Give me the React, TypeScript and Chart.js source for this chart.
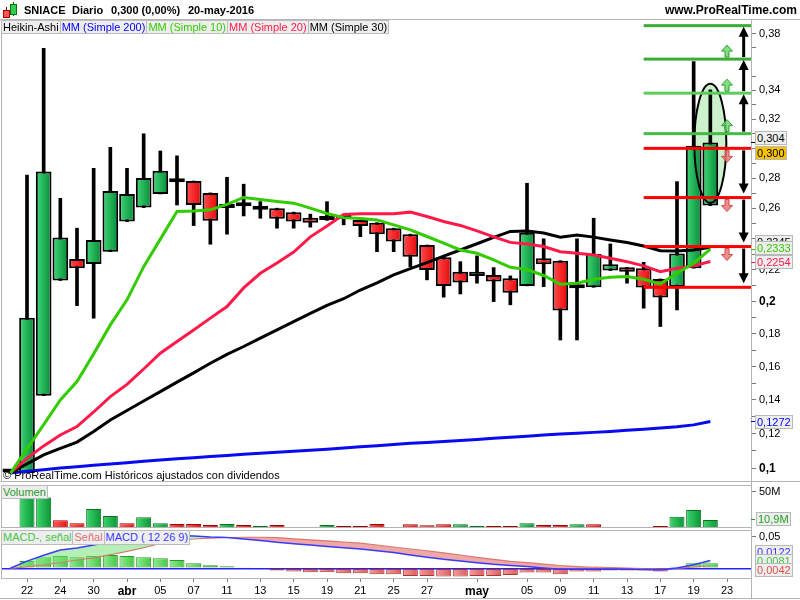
import React, { useEffect, useRef } from 'react';
import { Chart, registerables, LinearScale } from 'chart.js';

Chart.register(...registerables);

// Price axis of ProRealTime: spacing follows ln(1 + price)
class Ln1pScale extends LinearScale {
  static id = 'ln1p';
  getPixelForValue(value: number) {
    const a = Math.log1p(this.min), b = Math.log1p(this.max);
    return this.getPixelForDecimal((Math.log1p(value) - a) / (b - a));
  }
  getValueForPixel(pixel: number) {
    const a = Math.log1p(this.min), b = Math.log1p(this.max);
    return Math.expm1(a + this.getDecimalForPixel(pixel) * (b - a));
  }
}
Chart.register(Ln1pScale);

Chart.defaults.font.family = 'Arial, "Liberation Sans", sans-serif';
Chart.defaults.font.size = 11;
Chart.defaults.color = '#000';

// ---------------- DATA ----------------
const SESSIONS = ['21 mar','22 mar','23 mar','24 mar','29 mar','30 mar','31 mar','01 abr','04 abr','05 abr','06 abr','07 abr','08 abr','11 abr','12 abr','13 abr','14 abr','15 abr','18 abr','19 abr','20 abr','21 abr','22 abr','25 abr','26 abr','27 abr','28 abr','29 abr','02 may','03 may','04 may','05 may','06 may','09 may','10 may','11 may','12 may','13 may','16 may','17 may','18 may','19 may','20 may','23 may','24 may'];
const TICK_LABELS = ['','22','','24','','30','','abr','','05','','07','','11','','13','','15','','19','','21','','25','','27','','','may','','','05','','09','','11','','13','','17','','19','','23',''];
const BOLD_TICKS = ['abr', 'may'];

// Heikin-Ashi candles
const HA_OPEN = [.0975,.0973,.1425,.2133,.2270,.2238,.2317,.2512,.2604,.2694,.2772,.2780,.2701,.2621,.2622,.2606,.2600,.2574,.2538,.2523,.2549,.2523,.2505,.2469,.2430,.2360,.2281,.2189,.2162,.2168,.2148,.2099,.2275,.2259,.2105,.2090,.2196,.2217,.2211,.2143,.2094,.2211,.2617];
const HA_CLOSE = [.0985,.1900,.2843,.2408,.2211,.2393,.2714,.2694,.2800,.2849,.2787,.2621,.2518,.2602,.2612,.2589,.2530,.2512,.2505,.2545,.2530,.2484,.2430,.2382,.2285,.2200,.2099,.2120,.2189,.2126,.2056,.2440,.2236,.1944,.2084,.2302,.2236,.2189,.2088,.2026,.2306,.3018,.3040];
const HA_HIGH = [.0990,.2820,.3697,.2665,.2469,.2865,.3007,.2865,.3099,.2982,.2949,.2780,.2701,.2805,.2759,.2643,.2600,.2574,.2561,.2643,.2549,.2523,.2505,.2469,.2430,.2360,.2281,.2253,.2290,.2215,.2162,.2765,.2400,.2259,.2400,.2534,.2367,.2217,.2249,.2143,.2776,.3602,.3403];
const HA_LOW = [.0970,.0973,.1425,.2133,.1975,.1896,.2317,.2512,.2604,.2694,.2621,.2486,.2365,.2430,.2549,.2534,.2469,.2469,.2476,.2520,.2491,.2414,.2317,.2317,.2221,.2137,.2028,.2048,.2116,.2000,.1980,.2099,.2094,.1762,.1762,.2090,.2196,.2116,.1959,.1845,.1948,.2211,.2617];

// Moving averages
const SMA10 = [.0971,.1112,.1254,.1399,.1509,.1677,.1855,.2011,.2221,.2398,.2578,.2582,.2589,.2625,.2671,.2657,.2644,.2633,.2600,.2565,.2538,.2533,.2523,.2491,.2458,.2415,.2372,.2328,.2307,.2264,.2217,.2203,.2165,.2109,.2116,.2141,.2154,.2158,.2141,.2112,.2179,.2243,.2333];
const SMA20 = [.0973,.1057,.1129,.1193,.1242,.1328,.1419,.1492,.1585,.1681,.1753,.1824,.1897,.1969,.2086,.2179,.2245,.2315,.2413,.2484,.2559,.2563,.2563,.2563,.2574,.2545,.2513,.2487,.2452,.2413,.2377,.2367,.2350,.2317,.2307,.2296,.2275,.2253,.2226,.2189,.2211,.2226,.2254];
const SMA30 = [.0973,.1025,.1077,.1115,.1151,.1213,.1281,.1337,.1393,.1449,.1506,.1562,.1620,.1674,.1722,.1773,.1824,.1875,.1926,.1976,.2018,.2073,.2118,.2169,.2208,.2247,.2288,.2328,.2368,.2409,.2448,.2450,.2438,.2411,.2425,.2411,.2393,.2376,.2354,.2323,.2322,.2328,.2345];
const SMA200 = [.0973,.0983,.0992,.1002,.1009,.1017,.1025,.1032,.1040,.1048,.1055,.1061,.1068,.1074,.1080,.1087,.1092,.1098,.1104,.1110,.1117,.1124,.1130,.1137,.1144,.1149,.1155,.1160,.1166,.1174,.1180,.1186,.1192,.1199,.1203,.1208,.1213,.1220,.1226,.1234,.1241,.1252,.1272];

// Volume (millions) and day direction
const VOLUME = [0,48,42,10.7,6.5,26,16.3,6.5,14.9,6.5,5.6,5.6,4.2,5.6,4.2,2.8,4.2,1.4,1.4,4.2,2.8,2.8,5.6,1.4,5.2,3.7,5.2,5.2,2.8,2.8,2.8,6.5,4.2,4.2,5.2,5.2,1.4,1.0,1.0,2.8,15.3,24.6,10.9];
const VOLUME_UP = [1,1,1,0,0,1,1,0,1,1,0,0,0,1,0,1,0,0,1,1,0,0,0,0,0,0,0,1,1,0,0,1,0,0,1,0,1,0,0,0,1,1,1];

// MACD (12 26 9)
const MACD = [0,.0114,.0207,.0290,.0321,.0369,.0421,.0468,.0511,.0527,.0519,.0511,.0495,.0487,.0464,.0440,.0411,.0388,.0369,.0345,.0326,.0305,.0278,.0250,.0210,.0174,.0142,.0116,.0089,.0063,.0044,.0028,.0005,-.0016,-.0016,-.0016,-.0016,-.0016,-.0019,-.0027,.0005,.0057,.0122];
const SIGNAL = [0,.0025,.0055,.0092,.0131,.0166,.0215,.0269,.0326,.0392,.0437,.0464,.0479,.0487,.0491,.0491,.0484,.0467,.0451,.0435,.0416,.0397,.0369,.0337,.0305,.0278,.0245,.0210,.0174,.0142,.0111,.0089,.0065,.0044,.0028,.0017,.0013,.0005,-.0006,-.0011,-.0003,.0021,.0042];
const HIST = [0,.0116,.0174,.0195,.0174,.0195,.0210,.0195,.0174,.0158,.0131,.0079,.0047,.0032,.0008,-.0016,-.0036,-.0052,-.0063,-.0063,-.0079,-.0079,-.0095,-.0095,-.0122,-.0122,-.0131,-.0131,-.0122,-.0122,-.0106,-.0068,-.0068,-.0095,-.0052,-.0052,-.0036,-.0036,-.0036,-.0052,.0025,.0079,.0081];

// Price axis ticks
const PRICE_LABELED = [0.38, 0.34, 0.32, 0.28, 0.26, 0.22, 0.2, 0.18, 0.16, 0.14, 0.12, 0.1];
const PRICE_MINOR = [0.37, 0.35, 0.33, 0.31, 0.30, 0.29, 0.27, 0.25, 0.24, 0.23, 0.21, 0.19, 0.17, 0.15, 0.13, 0.11];
const PRICE_BOLD = [0.2, 0.1];

// Drawing-tool levels (price)
const GREEN_LEVELS = [0.386, 0.362, 0.338, 0.310];
const RED_LEVELS = [0.300, 0.267, 0.235, 0.209];
const LEVEL_FROM = 38;
const SMALL_ARROW_SLOT = 43;
const MEASURE_SLOT = 44;
const ELLIPSE_SLOT = 42;
const ELLIPSE_RANGE = [0.2635, 0.3445];

// ---------------- helpers ----------------
const fmt = (v: number) => String(v).replace('.', ',');

function hGrad(ctx: any, light: string, dark: string, half: number) {
  const chart = ctx.chart;
  const xs = chart.scales && chart.scales.x;
  if (!xs || ctx.type !== 'data' || !chart.chartArea) return dark;
  const cx = xs.getPixelForValue(ctx.dataIndex);
  const g = chart.ctx.createLinearGradient(cx - half, 0, cx + half, 0);
  g.addColorStop(0, light);
  g.addColorStop(1, dark);
  return g;
}

const fixY = (w: number) => (s: any) => {
  s.width = w;
  s.paddingTop = 0;
  s.paddingBottom = 0;
};

const baseOptions = {
  responsive: false,
  animation: false,
  events: [],
  layout: { padding: { left: 2, right: 0, top: 0, bottom: 0 } },
  plugins: { legend: { display: false }, tooltip: { enabled: false } },
};

function drawArrowHead(ctx: any, x: number, tipY: number, dir: number) {
  ctx.beginPath();
  ctx.moveTo(x, tipY);
  ctx.lineTo(x - 5, tipY - dir * 10);
  ctx.lineTo(x + 5, tipY - dir * 10);
  ctx.closePath();
  ctx.fill();
}

function drawHollowArrow(ctx: any, x: number, baseY: number, dir: number, fill: string, stroke: string) {
  const h = 12, hw = 5.5, sw = 2, hh = 6;
  ctx.beginPath();
  ctx.moveTo(x, baseY + dir * h);
  ctx.lineTo(x - hw, baseY + dir * hh);
  ctx.lineTo(x - sw, baseY + dir * hh);
  ctx.lineTo(x - sw, baseY);
  ctx.lineTo(x + sw, baseY);
  ctx.lineTo(x + sw, baseY + dir * hh);
  ctx.lineTo(x + hw, baseY + dir * hh);
  ctx.closePath();
  ctx.fillStyle = fill;
  ctx.fill();
  ctx.strokeStyle = stroke;
  ctx.lineWidth = 1;
  ctx.stroke();
}

const drawingsPlugin = {
  id: 'drawings',
  beforeDatasetsDraw(chart: any) {
    const { ctx, scales: { x, y } } = chart;
    const cx = x.getPixelForValue(ELLIPSE_SLOT);
    const y1 = y.getPixelForValue(ELLIPSE_RANGE[1]);
    const y2 = y.getPixelForValue(ELLIPSE_RANGE[0]);
    ctx.save();
    ctx.beginPath();
    ctx.ellipse(cx, (y1 + y2) / 2, 16, (y2 - y1) / 2, 0, 0, Math.PI * 2);
    ctx.fillStyle = 'rgba(200,240,200,0.9)';
    ctx.fill();
    ctx.restore();
  },
  afterDatasetsDraw(chart: any) {
    const { ctx, chartArea, scales: { x, y } } = chart;
    ctx.save();
    ctx.beginPath();
    ctx.rect(chartArea.left, chartArea.top, chartArea.right - chartArea.left, chartArea.bottom - chartArea.top);
    ctx.clip();
    const cx = x.getPixelForValue(ELLIPSE_SLOT);
    const ey1 = y.getPixelForValue(ELLIPSE_RANGE[1]);
    const ey2 = y.getPixelForValue(ELLIPSE_RANGE[0]);
    ctx.beginPath();
    ctx.ellipse(cx, (ey1 + ey2) / 2, 16, (ey2 - ey1) / 2, 0, 0, Math.PI * 2);
    ctx.strokeStyle = '#000';
    ctx.lineWidth = 2;
    ctx.stroke();

    const x0 = x.getPixelForValue(LEVEL_FROM);
    const x1 = chartArea.right;
    GREEN_LEVELS.forEach((lv, i) => {
      const py = y.getPixelForValue(lv);
      ctx.fillStyle = i < 2 ? '#3aad35' : (i === 2 ? '#5ccc5a' : '#47bb45');
      ctx.fillRect(x0, py - 1.5, x1 - x0, 3);
    });
    RED_LEVELS.forEach((lv) => {
      const py = y.getPixelForValue(lv);
      ctx.fillStyle = '#ff0000';
      ctx.fillRect(x0, py - 1.5, x1 - x0, 3);
    });
    const ax = x.getPixelForValue(SMALL_ARROW_SLOT);
    GREEN_LEVELS.slice(1).forEach((lv) => {
      drawHollowArrow(ctx, ax, y.getPixelForValue(lv) - 2, -1, 'rgba(110,215,110,0.85)', '#2f9f2f');
    });
    RED_LEVELS.slice(0, 3).forEach((lv) => {
      drawHollowArrow(ctx, ax, y.getPixelForValue(lv) + 2, 1, 'rgba(235,120,120,0.85)', '#d04848');
    });
    const bx = x.getPixelForValue(MEASURE_SLOT);
    ctx.fillStyle = '#000';
    ctx.strokeStyle = '#000';
    ctx.lineWidth = 3;
    for (let i = 0; i < GREEN_LEVELS.length - 1; i++) {
      const from = y.getPixelForValue(GREEN_LEVELS[i + 1]) - 2;
      const tip = y.getPixelForValue(GREEN_LEVELS[i]) + 1;
      ctx.beginPath();
      ctx.moveTo(bx, from);
      ctx.lineTo(bx, tip + 8);
      ctx.stroke();
      drawArrowHead(ctx, bx, tip, -1);
    }
    for (let i = 0; i < RED_LEVELS.length - 1; i++) {
      const from = y.getPixelForValue(RED_LEVELS[i]) + 2;
      const tip = y.getPixelForValue(RED_LEVELS[i + 1]) - 4;
      ctx.beginPath();
      ctx.moveTo(bx, from);
      ctx.lineTo(bx, tip - 8);
      ctx.stroke();
      drawArrowHead(ctx, bx, tip, 1);
    }
    ctx.restore();
  },
};

// ---------------- chart configs ----------------
function mainConfig(): any {
  const up = (i: number) => HA_CLOSE[i] >= HA_OPEN[i];
  return {
    type: 'bar',
    data: {
      labels: SESSIONS,
      datasets: [
        { type: 'line', data: SMA10, borderColor: '#33cc00', borderWidth: 3, pointRadius: 0, order: 1 },
        { type: 'line', data: SMA20, borderColor: '#ff1a4a', borderWidth: 3, pointRadius: 0, order: 2 },
        { type: 'line', data: SMA30, borderColor: '#000000', borderWidth: 3, pointRadius: 0, order: 3 },
        { type: 'line', data: SMA200, borderColor: '#0a0af0', borderWidth: 3, pointRadius: 0, order: 4 },
        {
          type: 'bar',
          data: HA_OPEN.map((o, i) => [o, HA_CLOSE[i]]),
          backgroundColor: (c: any) => up(c.dataIndex) ? hGrad(c, '#3fd474', '#07903a', 7) : hGrad(c, '#ff4a4a', '#e80a0a', 7),
          borderColor: '#000',
          borderWidth: 2,
          borderSkipped: false,
          grouped: false,
          barPercentage: 0.94,
          categoryPercentage: 1,
          minBarLength: 4,
          order: 10,
        },
        {
          type: 'bar',
          data: HA_LOW.map((l, i) => [l, HA_HIGH[i]]),
          backgroundColor: '#000',
          borderWidth: 0,
          grouped: false,
          barThickness: 3,
          order: 20,
        },
      ],
    },
    options: {
      ...baseOptions,
      scales: {
        x: { type: 'category', offset: true, display: false, grid: { offset: false } },
        y: {
          type: 'ln1p',
          position: 'right',
          min: 0.0927,
          max: 0.3901,
          bounds: 'data',
          afterFit: fixY(48),
          afterBuildTicks: (s: any) => {
            s.ticks = [...PRICE_LABELED, ...PRICE_MINOR].sort((a, b) => b - a).map((v) => ({ value: v }));
          },
          ticks: {
            autoSkip: false,
            padding: 3,
            color: '#000',
            callback: (v: number) => (PRICE_LABELED.includes(v) ? fmt(v) : ''),
            font: (c: any) => {
              const b = c.tick && PRICE_BOLD.includes(c.tick.value);
              return { family: 'Arial, "Liberation Sans", sans-serif', size: b ? 12 : 11, weight: b ? 'bold' : 'normal' };
            },
          },
          grid: { drawOnChartArea: false, drawTicks: true, tickLength: 4, color: '#7a7a7a' },
          border: { display: false },
        },
      },
    },
    plugins: [drawingsPlugin],
  };
}

function volumeConfig(): any {
  return {
    type: 'bar',
    data: {
      labels: SESSIONS,
      datasets: [
        {
          data: VOLUME,
          backgroundColor: (c: any) => VOLUME_UP[c.dataIndex] ? hGrad(c, '#3cd46a', '#0a9838', 7) : hGrad(c, '#ff5a5a', '#e81515', 7),
          borderColor: (c: any) => (VOLUME_UP[c.dataIndex] ? '#08701f' : '#a00000'),
          borderWidth: 1,
          borderSkipped: false,
          barPercentage: 0.9,
          categoryPercentage: 1,
        },
      ],
    },
    options: {
      ...baseOptions,
      scales: {
        x: { type: 'category', offset: true, display: false },
        y: {
          position: 'right',
          min: 0,
          max: 59,
          afterFit: fixY(48),
          afterBuildTicks: (s: any) => { s.ticks = [{ value: 50 }]; },
          ticks: { autoSkip: false, padding: 3, callback: (v: number) => (v === 50 ? '50M' : '') },
          grid: { drawOnChartArea: false, tickLength: 4, color: '#7a7a7a' },
          border: { display: false },
        },
      },
    },
  };
}

function macdConfig(): any {
  return {
    type: 'bar',
    data: {
      labels: SESSIONS,
      datasets: [
        {
          type: 'bar',
          data: HIST,
          backgroundColor: (c: any) => (HIST[c.dataIndex] >= 0 ? hGrad(c, '#8eec8e', '#45c845', 7) : hGrad(c, '#f09a9a', '#dc5e5e', 7)),
          borderColor: (c: any) => (HIST[c.dataIndex] >= 0 ? '#2a9a2a' : '#a83838'),
          borderWidth: 1,
          borderSkipped: false,
          barPercentage: 0.9,
          categoryPercentage: 1,
          order: 3,
        },
        { type: 'line', data: SIGNAL, borderColor: '#e07070', borderWidth: 1.2, pointRadius: 0, order: 2 },
        {
          type: 'line',
          data: MACD,
          borderColor: '#3a3aff',
          borderWidth: 1.5,
          pointRadius: 0,
          order: 1,
          fill: { target: 1, above: 'rgba(120,225,120,0.55)', below: 'rgba(228,110,110,0.6)' },
        },
      ],
    },
    options: {
      ...baseOptions,
      scales: {
        x: {
          type: 'category',
          offset: true,
          afterFit: (s: any) => { s.height = 22; s.paddingLeft = 0; s.paddingRight = 0; },
          ticks: {
            autoSkip: false,
            maxRotation: 0,
            minRotation: 0,
            padding: 2,
            color: '#000',
            callback: (_v: any, i: number) => TICK_LABELS[i],
            font: (c: any) => {
              const b = BOLD_TICKS.includes(TICK_LABELS[c.index]);
              return { family: 'Arial, "Liberation Sans", sans-serif', size: b ? 12 : 11, weight: b ? 'bold' : 'normal' };
            },
          },
          grid: {
            offset: false,
            drawOnChartArea: false,
            tickLength: 4,
            color: (c: any) => (TICK_LABELS[c.index] ? '#7a7a7a' : 'rgba(0,0,0,0)'),
          },
          border: { display: false },
        },
        y: {
          position: 'right',
          min: -0.01535,
          max: 0.0606,
          afterFit: fixY(48),
          afterBuildTicks: (s: any) => { s.ticks = [{ value: 0 }, { value: 0.05 }]; },
          ticks: { autoSkip: false, padding: 3, callback: (v: number) => (v === 0.05 ? '0,05' : '') },
          grid: {
            drawOnChartArea: true,
            tickLength: 4,
            color: (c: any) => (c.tick && c.tick.value === 0 ? '#2424ff' : 'rgba(0,0,0,0)'),
            lineWidth: (c: any) => (c.tick && c.tick.value === 0 ? 1.5 : 1),
            tickColor: (c: any) => (c.tick && c.tick.value === 0 ? 'rgba(0,0,0,0)' : '#7a7a7a'),
          },
          border: { display: false },
        },
      },
    },
  };
}

function ChartCanvas({ top, height, make }: { top: number; height: number; make: () => any }) {
  const ref = useRef<HTMLCanvasElement | null>(null);
  useEffect(() => {
    if (!ref.current) return;
    const c = new Chart(ref.current, make());
    return () => c.destroy();
  }, []);
  return <canvas ref={ref} width={800} height={height} style={{ position: 'absolute', left: 0, top, width: 800, height }} />;
}

const FONT = 'Arial, "Liberation Sans", sans-serif';

function Tag({ left, top, text, color, bg = '#eeeeee' }: any) {
  return (
    <div style={{ position: 'absolute', left, top, height: 12, lineHeight: '12px', fontSize: 11, padding: '0 1px', color, background: bg, border: '1px solid #b8b8b8', whiteSpace: 'nowrap' }}>{text}</div>
  );
}

function Line({ left, top, width, height, color = '#b4b4b4' }: any) {
  return <div style={{ position: 'absolute', left, top, width, height, background: color }} />;
}

export default function App() {
  const legendItems = [
    { t: 'Heikin-Ashi', c: '#000' },
    { t: 'MM (Simple 200)', c: '#0000ff' },
    { t: 'MM (Simple 10)', c: '#33cc00' },
    { t: 'MM (Simple 20)', c: '#ff1a4a' },
    { t: 'MM (Simple 30)', c: '#000' },
  ];
  const macdLegend = [
    { t: 'MACD-, señal', c: '#44c444' },
    { t: 'Señal', c: '#e07070' },
    { t: 'MACD ( 12 26 9)', c: '#3a3aff' },
  ];
  const header = [
    { t: 'SNIACE', l: 24 },
    { t: 'Diario', l: 72 },
    { t: '0,300 (0,00%)', l: 111 },
    { t: '20-may-2016', l: 188 },
  ];
  return (
    <div style={{ position: 'absolute', left: 0, top: 0, width: 800, height: 600, background: '#fff', overflow: 'hidden', fontFamily: FONT }}>
      <ChartCanvas top={20} height={461} make={mainConfig} />
      <ChartCanvas top={485} height={43} make={volumeConfig} />
      <ChartCanvas top={530} height={70} make={macdConfig} />

      {/* frames */}
      <Line left={0} top={19} width={800} height={1} />
      <Line left={1} top={19} width={1} height={462} />
      <Line left={0} top={481} width={800} height={1} />
      <Line left={1} top={485} width={750} height={1} />
      <Line left={1} top={485} width={1} height={43} />
      <Line left={1} top={527} width={750} height={1} />
      <Line left={1} top={530} width={750} height={1} />
      <Line left={1} top={530} width={1} height={48} />
      <Line left={1} top={578} width={750} height={1} />
      <Line left={0} top={598} width={800} height={1} />
      <Line left={751} top={19} width={1} height={580} />

      {/* header */}
      <div style={{ position: 'absolute', left: 3, top: 2, width: 14, height: 16 }}>
        <div style={{ position: 'absolute', left: 3, top: 5, width: 1, height: 11, background: '#700' }} />
        <div style={{ position: 'absolute', left: 0, top: 8, width: 5, height: 6, background: '#f55', border: '1px solid #a00' }} />
        <div style={{ position: 'absolute', left: 10, top: 0, width: 1, height: 14, background: '#060' }} />
        <div style={{ position: 'absolute', left: 7, top: 2, width: 5, height: 9, background: '#3c5', border: '1px solid #070' }} />
      </div>
      {header.map((h) => (
        <div key={h.t} style={{ position: 'absolute', left: h.l, top: 4, fontSize: 11, fontWeight: 'bold', lineHeight: '13px', color: '#000', whiteSpace: 'nowrap' }}>{h.t}</div>
      ))}
      <div style={{ position: 'absolute', right: 3, top: 3, fontSize: 12, fontWeight: 'bold', lineHeight: '14px', color: '#000' }}>www.ProRealTime.com</div>

      {/* main legend */}
      <div style={{ position: 'absolute', left: 1, top: 20, display: 'flex' }}>
        {legendItems.map((it, i) => (
          <div key={it.t} style={{ height: 12, lineHeight: '12px', fontSize: 11, padding: '0 1px', color: it.c, background: '#eeeeee', border: '1px solid #bcbcbc', marginLeft: i ? -1 : 0, whiteSpace: 'nowrap' }}>{it.t}</div>
        ))}
      </div>

      <div style={{ position: 'absolute', left: 3, top: 469, fontSize: 11, lineHeight: '12px', color: '#000', whiteSpace: 'nowrap' }}>© ProRealTime.com  Históricos ajustados con dividendos</div>

      {/* volume legend */}
      <div style={{ position: 'absolute', left: 1, top: 485, height: 12, lineHeight: '12px', fontSize: 11, padding: '0 1px', color: '#2a9a2a', background: '#eeeeee', border: '1px solid #bcbcbc' }}>Volumen</div>

      {/* macd legend */}
      <div style={{ position: 'absolute', left: 1, top: 530, display: 'flex' }}>
        {macdLegend.map((it, i) => (
          <div key={it.t} style={{ height: 13, lineHeight: '13px', fontSize: 11, padding: '0 1px', color: it.c, background: '#eeeeee', border: '1px solid #bcbcbc', marginLeft: i ? -1 : 0, whiteSpace: 'nowrap' }}>{it.t}</div>
        ))}
      </div>

      {/* small markers at axis for tagged values */}
      <Line left={751} top={142} width={4} height={1} color="#000" />
      <Line left={751} top={249} width={4} height={1} color="#33cc00" />
      <Line left={751} top={262} width={4} height={1} color="#ff1a4a" />
      <Line left={751} top={421} width={4} height={1} color="#0000ff" />
      <Line left={751} top={519} width={4} height={1} color="#22a022" />

      {/* axis value tags */}
      <Tag left={755} top={131} text="0,304" color="#000" bg="#f0f0f0" />
      <Tag left={755} top={146} text="0,300" color="#000" bg="#f7c300" />
      <Tag left={755} top={235} text="0,2345" color="#000" />
      <Tag left={755} top={241} text="0,2333" color="#33cc00" />
      <Tag left={755} top={255} text="0,2254" color="#ff1a4a" />
      <Tag left={755} top={415} text="0,1272" color="#0000ff" />
      <Tag left={756} top={512} text="10,9M" color="#22a022" />
      <Tag left={755} top={545} text="0,0122" color="#3a3aff" />
      <Tag left={755} top={554} text="0,0081" color="#44c444" />
      <Tag left={755} top={563} text="0,0042" color="#e05050" />
    </div>
  );
}
